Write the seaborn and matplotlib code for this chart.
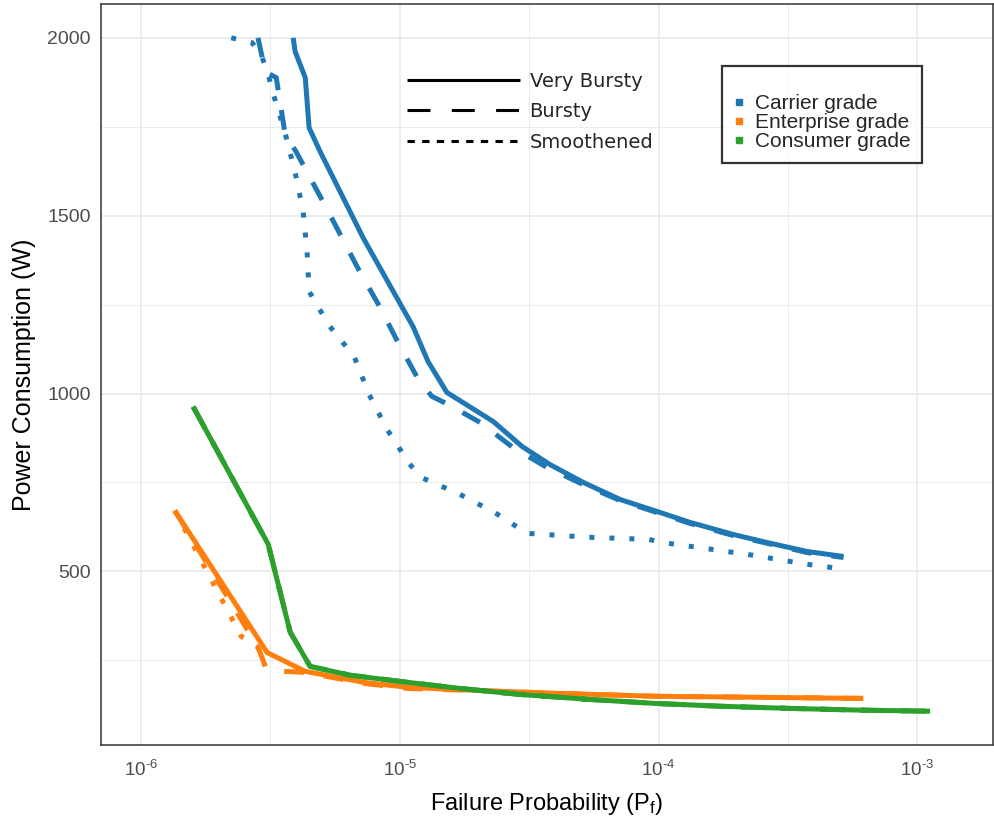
import matplotlib
matplotlib.use("Agg")
import matplotlib.pyplot as plt
from matplotlib.lines import Line2D
import seaborn as sns
import pandas as pd
import numpy as np

# ---------------- data ----------------
grades = ["Carrier grade", "Enterprise grade", "Consumer grade"]
traffic = ["Very Bursty", "Bursty", "Smoothened"]

carrier_vb_x = [3.87e-6, 3.94e-6, 4.31e-6, 4.46e-6, 4.92e-6, 7.21e-6, 9.02e-6, 1.125e-5, 1.285e-5,
                1.52e-5, 2.30e-5, 2.97e-5, 3.81e-5, 5.12e-5, 7.11e-5, 1.01e-4, 1.32e-4, 1.94e-4,
                2.63e-4, 3.75e-4, 5.18e-4]
carrier_vb_y = [2000, 1961, 1888, 1747, 1680, 1438, 1312, 1188, 1090,
                1003, 921, 851, 800, 750, 702, 666, 638, 604,
                581, 556, 542]

carrier_b_x = [2.83e-6, 3.02e-6, 3.33e-6, 3.42e-6, 3.60e-6, 3.97e-6, 5.05e-6, 7.03e-6, 8.39e-6,
               9.85e-6, 1.18e-5, 1.33e-5, 1.54e-5, 2.04e-5, 2.74e-5, 3.71e-5, 5.12e-5, 7.11e-5,
               1.01e-4, 1.32e-4, 1.94e-4, 2.63e-4, 3.75e-4, 5.18e-4]
carrier_b_y = [2000, 1904, 1888, 1834, 1730, 1680, 1539, 1340, 1242,
               1143, 1039, 992, 969, 919, 848, 792, 744, 699,
               663, 635, 601, 579, 553, 539]

carrier_s_x = [2.23e-6, 2.69e-6, 2.94e-6, 3.10e-6, 3.24e-6, 3.60e-6, 3.94e-6, 4.23e-6, 4.38e-6,
               4.46e-6, 5.33e-6, 6.66e-6, 7.61e-6, 8.93e-6, 1.087e-5, 1.21e-5, 1.68e-5, 2.32e-5,
               3.10e-5, 5.35e-5, 9.12e-5, 1.09e-4, 2.20e-4, 3.75e-4, 5.26e-4]
carrier_s_y = [2000, 1986, 1944, 1896, 1843, 1733, 1621, 1511, 1399,
               1287, 1191, 1104, 997, 899, 803, 764, 719, 666,
               607, 596, 590, 579, 548, 520, 506]

enterprise_vb_x = [1.35e-6, 3.07e-6, 4.31e-6, 7.28e-6, 1.077e-5, 2.40e-5, 4.17e-5, 9.62e-5, 2.47e-4, 6.18e-4]
enterprise_vb_y = [671, 272, 219, 188, 174, 163, 157, 149, 146, 143]

enterprise_b_x = [1.35e-6, 2.83e-6, 3.02e-6, 3.57e-6, 4.31e-6, 7.28e-6, 1.077e-5, 2.40e-5, 4.17e-5,
                  9.62e-5, 2.47e-4, 6.18e-4]
enterprise_b_y = [671, 287, 233, 219, 216, 185, 171, 163, 157, 149, 146, 143]

enterprise_s_x = [1.35e-6, 2.44e-6, 2.83e-6, 3.02e-6]
enterprise_s_y = [671, 317, 287, 233]

consumer_x = [1.59e-6, 3.10e-6, 3.77e-6, 4.50e-6, 6.43e-6, 1.077e-5, 1.71e-5, 2.92e-5, 5.44e-5,
              9.62e-5, 1.73e-4, 3.17e-4, 6.01e-4, 1.12e-3]
consumer_y = [963, 576, 329, 233, 208, 188, 171, 154, 140, 129, 121, 115, 110, 107]

x_ticks = [1e-6, 1e-5, 1e-4, 1e-3]
x_ticklabels = [r"$10^{\text{-}6}$", r"$10^{\text{-}5}$", r"$10^{\text{-}4}$", r"$10^{\text{-}3}$"]
y_ticks = [500, 1000, 1500, 2000]

# ---------------- assemble long table ----------------
series = {
    ("Carrier grade", "Very Bursty"): (carrier_vb_x, carrier_vb_y),
    ("Carrier grade", "Bursty"): (carrier_b_x, carrier_b_y),
    ("Carrier grade", "Smoothened"): (carrier_s_x, carrier_s_y),
    ("Enterprise grade", "Very Bursty"): (enterprise_vb_x, enterprise_vb_y),
    ("Enterprise grade", "Bursty"): (enterprise_b_x, enterprise_b_y),
    ("Enterprise grade", "Smoothened"): (enterprise_s_x, enterprise_s_y),
    ("Consumer grade", "Very Bursty"): (consumer_x, consumer_y),
    ("Consumer grade", "Bursty"): (consumer_x, consumer_y),
    ("Consumer grade", "Smoothened"): (consumer_x, consumer_y),
}
rows = []
for (g, t), (xs, ys) in series.items():
    for xv, yv in zip(xs, ys):
        rows.append({"grade": g, "traffic": t, "Pf": xv, "Power": yv})
df = pd.DataFrame(rows)

colors = {"Carrier grade": "#1f77b4", "Enterprise grade": "#ff7f0e", "Consumer grade": "#2ca02c"}
dash_map = {"Very Bursty": "", "Bursty": (4, 4), "Smoothened": (1, 3)}

# ---------------- plot ----------------
sns.set_theme(style="white")
plt.rcParams["font.family"] = ["Liberation Sans", "DejaVu Sans"]
plt.rcParams["mathtext.fontset"] = "custom"
plt.rcParams["mathtext.rm"] = "Liberation Sans"
plt.rcParams["mathtext.it"] = "Liberation Sans:italic"
plt.rcParams["mathtext.bf"] = "Liberation Sans:bold"

fig = plt.figure(figsize=(9.95, 8.23), dpi=100)
ax = fig.add_axes([101 / 995, 1 - 745 / 823, 892 / 995, 741 / 823])

sns.lineplot(data=df, x="Pf", y="Power", hue="grade", style="traffic",
             hue_order=grades, style_order=traffic, palette=colors, dashes=dash_map,
             estimator=None, sort=True, linewidth=3.6, legend=False, ax=ax,
             solid_capstyle="butt", dash_capstyle="butt")

ax.set_xscale("log")
ax.set_xlim(7.0e-7, 1.96e-3)
ax.set_ylim(12, 2095)

ax.set_xticks(x_ticks)
ax.set_xticklabels(x_ticklabels)
ax.set_xticks([10 ** -5.5, 10 ** -4.5, 10 ** -3.5], minor=True)
ax.set_xticklabels([], minor=True)
ax.set_yticks(y_ticks)
ax.set_yticks([250, 750, 1250, 1750], minor=True)

ax.grid(which="major", color="#EBEBEB", linewidth=1.3)
ax.grid(which="minor", color="#EBEBEB", linewidth=0.7)
ax.set_axisbelow(True)
ax.tick_params(axis="both", which="major", direction="out", length=4.5, width=1.1,
               color="#333333", labelcolor="#4D4D4D")
ax.tick_params(axis="both", which="minor", length=0)
ax.tick_params(axis="y", labelsize=14, pad=3)
ax.tick_params(axis="x", labelsize=13.5, pad=6)
for s in ax.spines.values():
    s.set_color("#333333")
    s.set_linewidth(1.1)

ax.set_xlabel(r"Failure Probability (P$_{\mathrm{f}}$)", fontsize=17, color="black", labelpad=8)
ax.set_ylabel("Power Consumption (W)", fontsize=18, color="black", labelpad=8)

# linetype legend (no frame)
lt_handles = [
    Line2D([], [], color="black", linewidth=2.2, solid_capstyle="butt"),
    Line2D([], [], color="black", linewidth=2.2, dashes=(7.5, 7), dash_capstyle="butt"),
    Line2D([], [], color="black", linewidth=2.2, dashes=(2.4, 2.4), dash_capstyle="butt"),
]
leg1 = ax.legend(lt_handles, traffic, loc="upper left",
                 bbox_to_anchor=((407 - 101) / 892, (745 - 72) / 741),
                 frameon=False, handlelength=5.8, handletextpad=0.5, labelspacing=0.58,
                 borderaxespad=0, borderpad=0,
                 prop={"family": "DejaVu Sans", "size": 14})
ax.add_artist(leg1)

# colour legend (boxed)
c_handles = [Line2D([], [], color=colors[g], marker="s", markersize=5, linestyle="none")
             for g in grades]
leg2 = ax.legend(c_handles, grades, loc="upper left",
                 bbox_to_anchor=((722 - 101) / 892, (745 - 66) / 741),
                 frameon=True, fancybox=False, handlelength=0.55, handletextpad=0.5,
                 labelspacing=0.0, borderaxespad=0, borderpad=0.55,
                 title=" ", title_fontsize=10,
                 prop={"family": "Liberation Sans", "size": 15})
leg2.get_frame().set_edgecolor("black")
leg2.get_frame().set_linewidth(1.6)
leg2._legend_box.sep = 2

fig.savefig("out.png", dpi=100)
